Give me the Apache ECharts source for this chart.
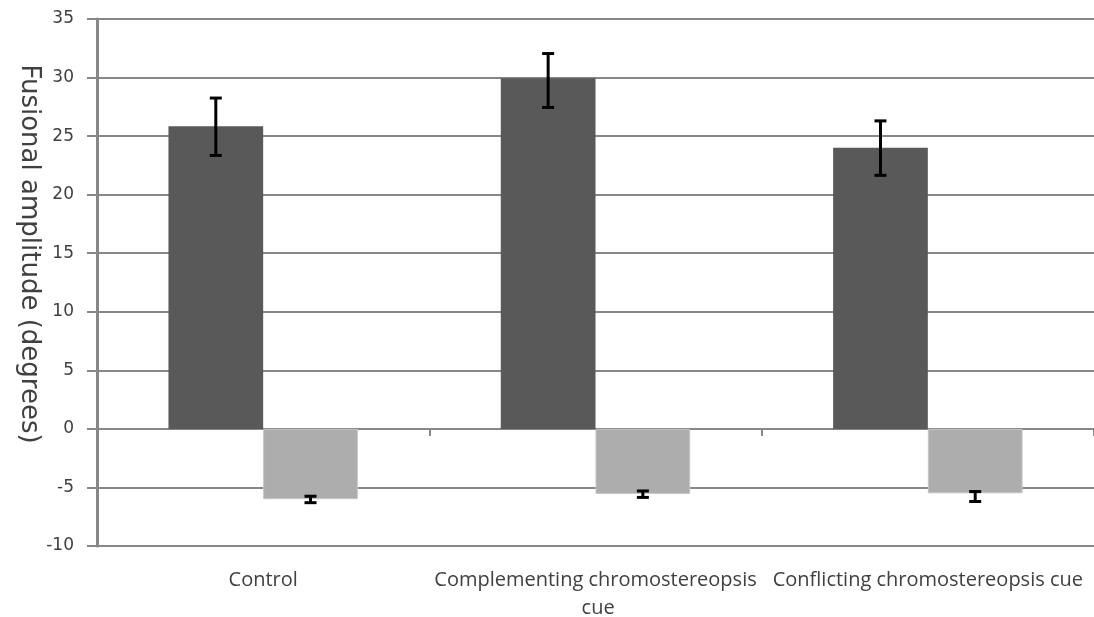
<!DOCTYPE html>
<html>
<head>
<meta charset="utf-8">
<script src="https://cdn.jsdelivr.net/npm/echarts@6/dist/echarts.min.js"></script>
<style>
html,body{margin:0;padding:0;background:#fff;}
#chart{width:1094px;height:617px;}
</style>
</head>
<body>
<div id="chart"></div>
<script>
var categories = ['Control', 'Complementing chromostereopsis cue', 'Conflicting chromostereopsis cue'];
var darkValues = [25.85, 29.95, 24.0];
var darkErrLow = [23.35, 27.45, 21.65];
var darkErrHigh = [28.25, 32.05, 26.3];
var lightValues = [-6.0, -5.55, -5.5];
var lightErrLow = [-6.3, -5.85, -6.2];
var lightErrHigh = [-5.75, -5.3, -5.35];
var yTicks = [-10, -5, 0, 5, 10, 15, 20, 25, 30, 35];
var yTitle = 'Fusional amplitude (degrees)';

var GRAY = '#878787';
var TEXT = '#404040';
var CAT_GAP = 0.43;

function errData(lo, hi) {
  return categories.map(function (c, i) { return [i, lo[i], hi[i]]; });
}

function errRender(side) {
  return function (params, api) {
    var idx = api.value(0);
    var pLo = api.coord([idx, api.value(1)]);
    var pHi = api.coord([idx, api.value(2)]);
    var catW = api.size([1, 0])[0];
    var barW = catW * (1 - CAT_GAP) / 2;
    var x = pLo[0] + side * barW / 2;
    var cap = 6;
    var style = { stroke: '#000', lineWidth: 3, fill: null };
    return {
      type: 'group',
      children: [
        { type: 'line', shape: { x1: x, y1: pLo[1], x2: x, y2: pHi[1] }, style: style },
        { type: 'line', shape: { x1: x - cap, y1: pLo[1], x2: x + cap, y2: pLo[1] }, style: style },
        { type: 'line', shape: { x1: x - cap, y1: pHi[1], x2: x + cap, y2: pHi[1] }, style: style }
      ]
    };
  };
}

var chart = echarts.init(document.getElementById('chart'));
chart.setOption({
  animation: false,
  backgroundColor: '#fff',
  grid: { left: 97, right: 0, top: 19, bottom: 71, containLabel: false, outerBoundsMode: 'none' },
  graphic: [{
    type: 'text',
    x: 29, y: 254,
    rotation: -Math.PI / 2,
    style: {
      text: yTitle,
      fill: TEXT,
      font: '26px "DejaVu Sans"',
      align: 'center',
      verticalAlign: 'middle'
    }
  }],
  xAxis: [{
    type: 'category',
    data: categories,
    position: 'bottom',
    axisLine: { show: false, onZero: false },
    axisTick: { show: false },
    axisLabel: {
      color: TEXT, fontFamily: 'Open Sans', fontSize: 20, margin: 20,
      width: 326, overflow: 'break', lineHeight: 28, interval: 0
    }
  }, {
    type: 'category',
    data: categories,
    position: 'bottom',
    axisLine: { show: true, onZero: true, lineStyle: { color: GRAY, width: 2 } },
    axisTick: { show: true, length: 7, lineStyle: { color: GRAY, width: 2 } },
    axisLabel: { show: false }
  }],
  yAxis: {
    type: 'value',
    min: yTicks[0], max: yTicks[yTicks.length - 1], interval: 5,
    axisLine: { show: true, lineStyle: { color: GRAY, width: 3 } },
    axisTick: { show: true, length: 10, lineStyle: { color: GRAY, width: 2 } },
    axisLabel: { color: TEXT, fontFamily: 'DejaVu Sans', fontSize: 17, margin: 23 },
    splitLine: { show: true, lineStyle: { color: GRAY, width: 2 } }
  },
  series: [{
    type: 'bar', xAxisIndex: 0, data: darkValues,
    barGap: '0%', barCategoryGap: (CAT_GAP * 100) + '%',
    itemStyle: { color: '#595959' }
  }, {
    type: 'bar', xAxisIndex: 0, data: lightValues,
    barGap: '0%', barCategoryGap: (CAT_GAP * 100) + '%',
    itemStyle: { color: '#adadad', borderColor: '#c4c4c4', borderWidth: 1 }
  }, {
    type: 'custom', xAxisIndex: 0, renderItem: errRender(-1),
    data: errData(darkErrLow, darkErrHigh), z: 10,
    encode: { x: 0, y: [1, 2] }
  }, {
    type: 'custom', xAxisIndex: 0, renderItem: errRender(1),
    data: errData(lightErrLow, lightErrHigh), z: 10,
    encode: { x: 0, y: [1, 2] }
  }]
});
</script>
</body>
</html>
